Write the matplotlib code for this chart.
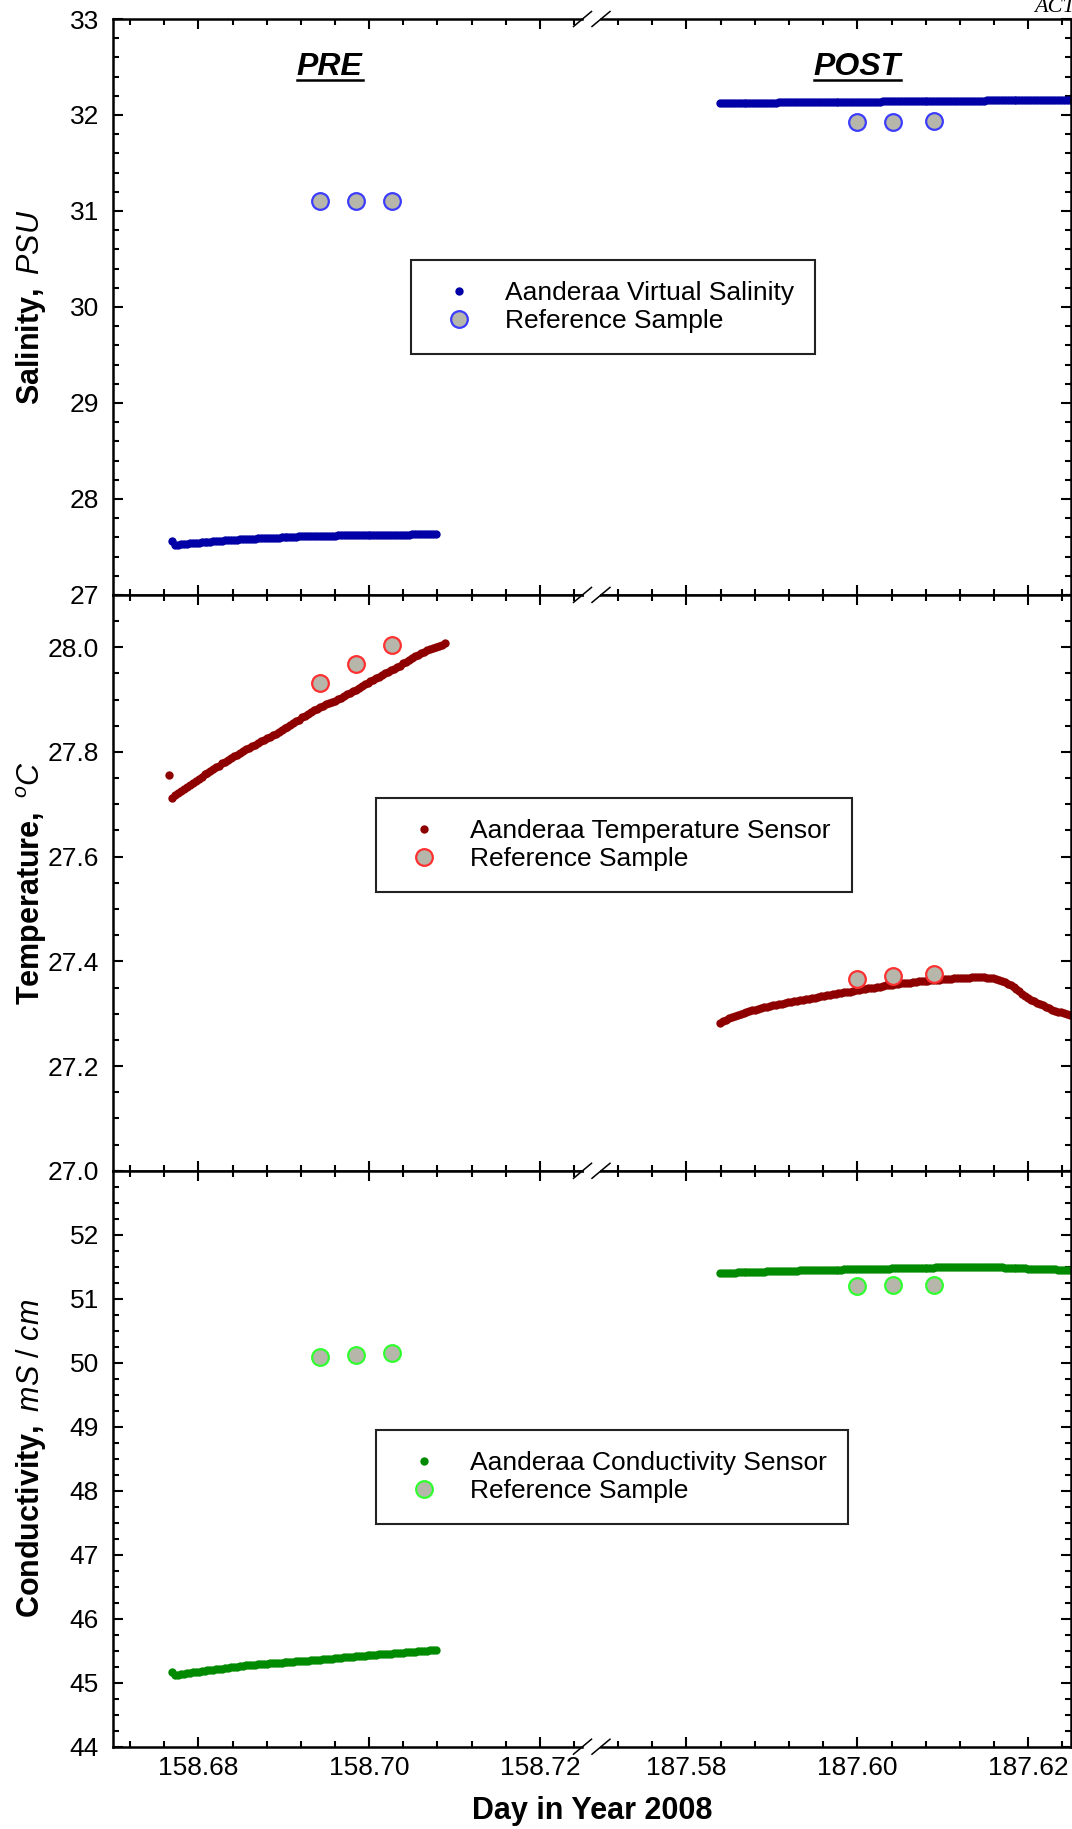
import numpy as np
import matplotlib
matplotlib.use("Agg")
import matplotlib.pyplot as plt
from matplotlib.lines import Line2D
from matplotlib.ticker import MultipleLocator, FixedLocator, FormatStrFormatter

plt.rcParams['font.family'] = ['Liberation Sans', 'DejaVu Sans']
plt.rcParams['mathtext.fontset'] = 'custom'
plt.rcParams['mathtext.rm'] = 'Liberation Sans'
plt.rcParams['mathtext.it'] = 'Liberation Sans:italic'
plt.rcParams['mathtext.bf'] = 'Liberation Sans:bold'

# logger runs, one sample every 30 s (day of year 2008)
SAMPLE_DT = 1.0 / 2880
PRE_START = 158.6769
POST_START = 187.5839

sal_pre = [27.557,
           27.522, 27.525, 27.528, 27.530, 27.533, 27.536, 27.539, 27.541, 27.544, 27.547,
           27.550, 27.552, 27.555, 27.558, 27.561, 27.563, 27.566, 27.569, 27.572, 27.574,
           27.576, 27.577, 27.579, 27.580, 27.582, 27.583, 27.585, 27.586, 27.588, 27.589,
           27.591, 27.592, 27.594, 27.595, 27.597, 27.598, 27.600, 27.601, 27.603, 27.604,
           27.606, 27.607, 27.609, 27.610, 27.611, 27.611, 27.612, 27.613, 27.614, 27.614,
           27.615, 27.616, 27.617, 27.617, 27.618, 27.619, 27.620, 27.620, 27.621, 27.622,
           27.623, 27.623, 27.624, 27.625, 27.626, 27.626, 27.626, 27.626, 27.627, 27.627,
           27.627, 27.627, 27.628, 27.628, 27.628, 27.628, 27.629, 27.629, 27.629, 27.629,
           27.630, 27.630, 27.630, 27.630, 27.631, 27.631, 27.632, 27.632, 27.633]
sal_post = [32.125, 32.125, 32.126, 32.126, 32.126, 32.126, 32.127, 32.127, 32.127, 32.128,
            32.128, 32.128, 32.128, 32.129, 32.129, 32.129, 32.130, 32.130, 32.130, 32.130,
            32.131, 32.131, 32.131, 32.132, 32.132, 32.132, 32.132, 32.133, 32.133, 32.133,
            32.133, 32.134, 32.134, 32.134, 32.135, 32.135, 32.135, 32.135, 32.136, 32.136,
            32.136, 32.137, 32.137, 32.137, 32.137, 32.138, 32.138, 32.138, 32.139, 32.139,
            32.139, 32.139, 32.140, 32.140, 32.140, 32.141, 32.141, 32.141, 32.141, 32.142,
            32.142, 32.142, 32.143, 32.143, 32.143, 32.143, 32.144, 32.144, 32.144, 32.145,
            32.145, 32.145, 32.145, 32.146, 32.146, 32.146, 32.147, 32.147, 32.147, 32.147,
            32.148, 32.148, 32.148, 32.149, 32.149, 32.149, 32.149, 32.150, 32.150, 32.150,
            32.151, 32.151, 32.151, 32.151, 32.152, 32.152, 32.152, 32.152, 32.153, 32.153,
            32.153, 32.154, 32.154, 32.154, 32.154, 32.155, 32.155, 32.155, 32.156, 32.156,
            32.156, 32.156, 32.157, 32.157, 32.157, 32.158, 32.158, 32.158, 32.158, 32.159,
            32.159]

# temperature log starts one sample earlier than the other channels
temp_pre = [27.756,
            27.713, 27.717, 27.721, 27.725, 27.729, 27.733, 27.737, 27.741, 27.745, 27.749,
            27.753, 27.757, 27.760, 27.764, 27.767, 27.771, 27.774, 27.778, 27.781, 27.785,
            27.788, 27.792, 27.795, 27.798, 27.801, 27.805, 27.808, 27.811, 27.814, 27.817,
            27.820, 27.823, 27.826, 27.829, 27.832, 27.835, 27.838, 27.841, 27.845, 27.848,
            27.852, 27.855, 27.859, 27.862, 27.866, 27.869, 27.873, 27.876, 27.880, 27.883,
            27.886, 27.888, 27.891, 27.893, 27.896, 27.898, 27.901, 27.904, 27.907, 27.910,
            27.913, 27.916, 27.919, 27.922, 27.926, 27.929, 27.932, 27.935, 27.938, 27.941,
            27.944, 27.947, 27.950, 27.953, 27.956, 27.959, 27.962, 27.965, 27.969, 27.972,
            27.976, 27.979, 27.983, 27.986, 27.989, 27.991, 27.994, 27.996, 27.998, 28.000,
            28.002, 28.005, 28.008]
temp_post = [27.283, 27.286, 27.288, 27.291, 27.293, 27.295, 27.297, 27.299, 27.301, 27.303,
             27.305, 27.307, 27.308, 27.310, 27.311, 27.312, 27.313, 27.315, 27.316, 27.317,
             27.318, 27.319, 27.320, 27.322, 27.323, 27.324, 27.325, 27.326, 27.327, 27.328,
             27.329, 27.330, 27.331, 27.332, 27.333, 27.334, 27.335, 27.336, 27.337, 27.338,
             27.339, 27.340, 27.341, 27.342, 27.342, 27.344, 27.345, 27.346, 27.347, 27.348,
             27.349, 27.350, 27.350, 27.351, 27.352, 27.353, 27.354, 27.355, 27.355, 27.356,
             27.357, 27.358, 27.358, 27.359, 27.359, 27.360, 27.361, 27.362, 27.362, 27.363,
             27.363, 27.364, 27.364, 27.365, 27.365, 27.366, 27.366, 27.367, 27.367, 27.368,
             27.368, 27.369, 27.369, 27.369, 27.369, 27.370, 27.370, 27.370, 27.370, 27.370,
             27.369, 27.369, 27.368, 27.367, 27.365, 27.363, 27.360, 27.357, 27.354, 27.351,
             27.347, 27.343, 27.338, 27.334, 27.330, 27.327, 27.324, 27.321, 27.318, 27.316,
             27.313, 27.311, 27.308, 27.306, 27.304, 27.303, 27.301, 27.300, 27.298, 27.297,
             27.295]

cond_pre = [45.173,
            45.122, 45.128, 45.135, 45.141, 45.147, 45.154, 45.160, 45.166, 45.172, 45.178,
            45.185, 45.191, 45.197, 45.203, 45.210, 45.216, 45.222, 45.228, 45.235, 45.241,
            45.247, 45.253, 45.259, 45.265, 45.270, 45.274, 45.278, 45.282, 45.286, 45.290,
            45.293, 45.297, 45.301, 45.305, 45.308, 45.312, 45.315, 45.319, 45.322, 45.326,
            45.329, 45.333, 45.336, 45.340, 45.343, 45.347, 45.350, 45.354, 45.358, 45.362,
            45.366, 45.370, 45.374, 45.378, 45.382, 45.386, 45.390, 45.394, 45.398, 45.402,
            45.406, 45.410, 45.414, 45.418, 45.422, 45.426, 45.430, 45.434, 45.438, 45.442,
            45.445, 45.449, 45.452, 45.456, 45.459, 45.463, 45.466, 45.470, 45.474, 45.478,
            45.482, 45.486, 45.490, 45.494, 45.498, 45.502, 45.506, 45.510, 45.513]
cond_post = [51.400, 51.402, 51.404, 51.406, 51.408, 51.410, 51.412, 51.414, 51.415, 51.417,
             51.418, 51.420, 51.421, 51.423, 51.424, 51.426, 51.427, 51.429, 51.430, 51.432,
             51.433, 51.435, 51.436, 51.437, 51.438, 51.440, 51.441, 51.442, 51.443, 51.445,
             51.446, 51.447, 51.448, 51.449, 51.450, 51.451, 51.452, 51.453, 51.454, 51.455,
             51.456, 51.457, 51.458, 51.459, 51.460, 51.461, 51.462, 51.463, 51.464, 51.465,
             51.466, 51.467, 51.468, 51.469, 51.470, 51.471, 51.472, 51.473, 51.474, 51.475,
             51.476, 51.477, 51.478, 51.479, 51.480, 51.481, 51.482, 51.483, 51.484, 51.485,
             51.486, 51.487, 51.488, 51.489, 51.489, 51.490, 51.490, 51.491, 51.491, 51.492,
             51.492, 51.493, 51.493, 51.494, 51.494, 51.495, 51.495, 51.495, 51.495, 51.495,
             51.495, 51.495, 51.494, 51.493, 51.492, 51.490, 51.488, 51.486, 51.484, 51.482,
             51.480, 51.478, 51.476, 51.474, 51.472, 51.470, 51.468, 51.467, 51.465, 51.464,
             51.462, 51.461, 51.459, 51.458, 51.456, 51.455, 51.453, 51.452, 51.451, 51.450,
             51.449]

# bottle reference samples
ref_time_pre = [158.6943, 158.6985, 158.7027]
ref_time_post = [187.6000, 187.6042, 187.6090]
ref_sal_pre = [31.10, 31.10, 31.10]
ref_sal_post = [31.928, 31.928, 31.934]
ref_temp_pre = [27.931, 27.968, 28.004]
ref_temp_post = [27.366, 27.373, 27.376]
ref_cond_pre = [50.086, 50.122, 50.158]
ref_cond_post = [51.20, 51.21, 51.21]


def times(start, values):
    return start + SAMPLE_DT * np.arange(len(values))


REF_FACE = '#b6b6ab'

panels = [
    dict(pre=sal_pre, post=sal_post, tpre=times(PRE_START, sal_pre),
         rpre=ref_sal_pre, rpost=ref_sal_post,
         color='#0000a6', edge='#3c3cff', ylim=(27, 33), major=1, minor=0.2, fmt='%d',
         ylabel=r'$\mathbf{Salinity,}\ \mathit{PSU}$',
         legend='Aanderaa Virtual Salinity'),
    dict(pre=temp_pre, post=temp_post, tpre=times(PRE_START - SAMPLE_DT, temp_pre),
         rpre=ref_temp_pre, rpost=ref_temp_post,
         color='#8e0000', edge='#ff3030', ylim=(27.0, 28.1), major=0.2, minor=0.05, fmt='%.1f',
         ylabel=r'$\mathbf{Temperature,}\ {}^{\mathit{o}}\mathit{C}$',
         legend='Aanderaa Temperature Sensor'),
    dict(pre=cond_pre, post=cond_post, tpre=times(PRE_START, cond_pre),
         rpre=ref_cond_pre, rpost=ref_cond_post,
         color='#008a00', edge='#30ff30', ylim=(44, 53), major=None, minor=0.25, fmt='%d',
         ylabel=r'$\mathbf{Conductivity,}\ \mathit{mS\ /\ cm}$',
         legend='Aanderaa Conductivity Sensor'),
]

W, H = 1072, 1829
fig = plt.figure(figsize=(W / 100, H / 100), dpi=100)


def fx(px):
    return px / W


def fy(py):
    return 1 - py / H


TOP, BOTTOM = 19.0, 1746.7
PH = (BOTTOM - TOP) / 3
LX0, LX1 = 113.0, 582.5
RX0, RX1 = 601.0, 1071.0
legend_boxes = [('center', (613, 307)), ('upper left', (376, 798)), ('upper left', (376, 1430))]

axes_pairs = []
for k, p in enumerate(panels):
    y1 = TOP + (k + 1) * PH
    axL = fig.add_axes([fx(LX0), fy(y1), (LX1 - LX0) / W, PH / H])
    axR = fig.add_axes([fx(RX0), fy(y1), (RX1 - RX0) / W, PH / H])
    axes_pairs.append((axL, axR))

    axL.plot(p['tpre'], p['pre'], 'o', ms=6, color=p['color'], mew=0, ls='none')
    axR.plot(times(POST_START, p['post']), p['post'], 'o', ms=6, color=p['color'], mew=0, ls='none')
    axL.plot(ref_time_pre, p['rpre'], 'o', ms=12, mfc=REF_FACE, mec=p['edge'], mew=1.6, ls='none')
    axR.plot(ref_time_post, p['rpost'], 'o', ms=12, mfc=REF_FACE, mec=p['edge'], mew=1.6, ls='none')

    axL.set_xlim(158.670, 158.725)
    axR.set_xlim(187.570, 187.625)
    for ax in (axL, axR):
        ax.set_ylim(*p['ylim'])
        ax.xaxis.set_major_locator(MultipleLocator(0.02))
        ax.xaxis.set_minor_locator(MultipleLocator(0.004))
        ax.xaxis.set_major_formatter(FormatStrFormatter('%.2f'))
        if p['major'] is None:
            ax.yaxis.set_major_locator(FixedLocator(np.arange(44, 53)))
        else:
            ax.yaxis.set_major_locator(MultipleLocator(p['major']))
        ax.yaxis.set_minor_locator(MultipleLocator(p['minor']))
        ax.yaxis.set_major_formatter(FormatStrFormatter(p['fmt']))
        for s in ax.spines.values():
            s.set_linewidth(1.8)
        ax.tick_params(which='both', direction='in', top=True, bottom=True, width=1.5,
                       labelsize=19, labelbottom=(k == 2))
        ax.tick_params(which='major', length=7.5)
        ax.tick_params(which='minor', length=4.3)
        ax.tick_params(axis='x', pad=7)
        ax.tick_params(axis='y', pad=10)
    axL.spines['right'].set_visible(False)
    axR.spines['left'].set_visible(False)
    axL.tick_params(which='both', left=True, right=False)
    axR.tick_params(which='both', left=False, right=True, labelleft=False)

    fig.text(fx(31.5), fy(TOP + (k + 0.5) * PH), p['ylabel'], rotation=90,
             ha='center', va='center', fontsize=22)

    handles = [Line2D([], [], marker='o', ls='none', ms=6, color=p['color'], mew=0),
               Line2D([], [], marker='o', ls='none', ms=12, mfc=REF_FACE, mec=p['edge'], mew=1.6)]
    loc, (lx, ly) = legend_boxes[k]
    leg = fig.legend(handles, [p['legend'], 'Reference Sample'], loc=loc,
                     bbox_to_anchor=(fx(lx), fy(ly)), bbox_transform=fig.transFigure,
                     fontsize=19, frameon=True, fancybox=False, edgecolor='#222222',
                     framealpha=1, borderpad=0.8, handlelength=2.05, handletextpad=0.72,
                     labelspacing=0.15, borderaxespad=0, numpoints=1)
    leg.get_frame().set_linewidth(1.5)

# PRE / POST headers in the salinity panel
top_left, top_right = axes_pairs[0]
hdr_pre = top_left.text(158.6954, 32.42, 'PRE', fontsize=23, fontweight='bold',
                        fontstyle='italic', ha='center', va='baseline')
hdr_post = top_right.text(187.600, 32.42, 'POST', fontsize=23, fontweight='bold',
                          fontstyle='italic', ha='center', va='baseline')

fig.canvas.draw()
renderer = fig.canvas.get_renderer()
for ax, t in ((top_left, hdr_pre), (top_right, hdr_post)):
    bb = t.get_window_extent(renderer)
    yb = ax.transData.transform(t.get_position())[1]
    fig.add_artist(Line2D([bb.x0 / W, bb.x1 / W], [(yb - 5) / H] * 2,
                          transform=fig.transFigure, lw=1.8, color='black'))

# axis-break marks on every horizontal spine
for k in range(4):
    ys = TOP + k * PH
    for xs in (LX1, RX0):
        fig.add_artist(Line2D([fx(xs - 9), fx(xs + 9)], [fy(ys + 7.5), fy(ys - 7.5)],
                              transform=fig.transFigure, lw=1.1, color='black'))

fig.text(fx(592), fy(1811), 'Day in Year 2008', fontsize=22, fontweight='bold',
         ha='center', va='center')
fig.text(fx(1034), fy(11.7), 'ACT', fontsize=16, fontstyle='italic',
         family=['Liberation Serif', 'DejaVu Serif'], ha='left', va='baseline')

fig.savefig('out.png', dpi=100)
